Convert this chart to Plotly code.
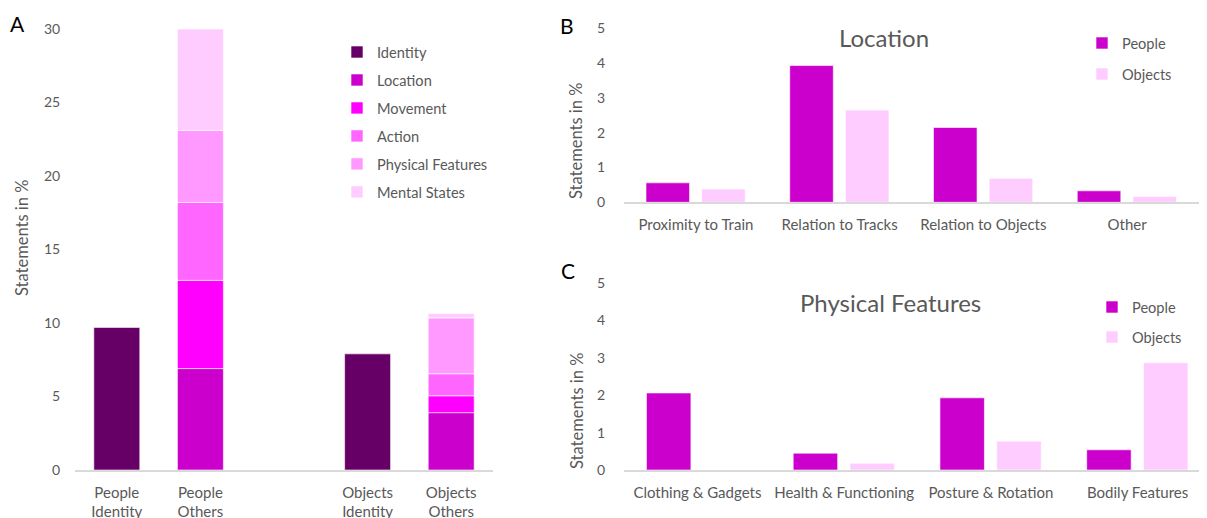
import plotly.graph_objects as go
import numpy as np

# ---------------- data ----------------
a_categories = ["People<br>Identity", "People<br>Others", " ", "Objects<br>Identity", "Objects<br>Others"]
a_series_names = ["Identity", "Location", "Movement", "Action", "Physical Features", "Mental States"]
identity = [9.7, None, None, 7.9, None]
location = [None, 6.9, None, None, 3.9]
movement = [None, 6.0, None, None, 1.15]
action = [None, 5.3, None, None, 1.5]
physical = [None, 4.9, None, None, 3.8]
mental = [None, 6.9, None, None, 0.3]

b_categories = ["Proximity to Train", "Relation to Tracks", "Relation to Objects", "Other"]
b_people = [0.56, 3.93, 2.15, 0.33]
b_objects = [0.38, 2.65, 0.69, 0.17]

c_categories = ["Clothing & Gadgets", "Health & Functioning", "Posture & Rotation", "Bodily Features"]
c_people = [2.06, 0.45, 1.93, 0.54]
c_objects = [0.0, 0.18, 0.77, 2.87]

# ---------------- styles ----------------
a_colors = ["#660066", "#CC00CC", "#FF00FF", "#FF66FF", "#FF99FF", "#FFCCFF"]
people_color = "#CC00CC"
objects_color = "#FFCCFF"
FONT = "Lato, Carlito, Calibri, sans-serif"
GREY = "#595959"
W, H = 1207, 518
OX, OY = 8, 8   # page (body) offset of the figure in the browser

fig = go.Figure()

# Panel A: stacked bars (bases computed from the series)
a_series = [identity, location, movement, action, physical, mental]
cum = np.zeros(len(a_categories))
for name, vals, col in zip(a_series_names, a_series, a_colors):
    arr = np.array([0.0 if v is None else v for v in vals])
    fig.add_trace(go.Bar(
        x=a_categories, y=vals, base=cum.copy(), name=name,
        marker=dict(color=col, line=dict(color="white", width=0.6)),
        width=0.55, xaxis="x", yaxis="y", legend="legend", legendgroup="a" + name,
        hoverinfo="skip"))
    cum = cum + arr

BW, OFF_P, OFF_O = 0.303, -0.347, 0.040
# Panel B
fig.add_trace(go.Bar(x=b_categories, y=b_people, name="People", width=BW, offset=OFF_P,
                     marker=dict(color=people_color, line=dict(color="white", width=0.6)),
                     xaxis="x2", yaxis="y2", legend="legend2", legendgroup="bP", hoverinfo="skip"))
fig.add_trace(go.Bar(x=b_categories, y=b_objects, name="Objects", width=BW, offset=OFF_O,
                     marker=dict(color=objects_color, line=dict(color="white", width=0.6)),
                     xaxis="x2", yaxis="y2", legend="legend2", legendgroup="bO", hoverinfo="skip"))
# Panel C
fig.add_trace(go.Bar(x=c_categories, y=c_people, name="People", width=BW, offset=OFF_P,
                     marker=dict(color=people_color, line=dict(color="white", width=0.6)),
                     xaxis="x3", yaxis="y3", legend="legend3", legendgroup="cP", hoverinfo="skip"))
fig.add_trace(go.Bar(x=c_categories, y=c_objects, name="Objects", width=BW, offset=OFF_O,
                     marker=dict(color=objects_color, line=dict(color="white", width=0.6)),
                     xaxis="x3", yaxis="y3", legend="legend3", legendgroup="cO", hoverinfo="skip"))


def px_x(p):
    return (p - OX) / W


def px_y(p):
    return (H - (p - OY)) / H


xcommon = dict(type="category", showline=True, linecolor="#D9D9D9", linewidth=1.5,
               ticks="outside", ticklen=8, tickcolor="rgba(0,0,0,0)",
               tickfont=dict(size=15, color=GREY, family=FONT),
               showgrid=False, zeroline=False, fixedrange=True, automargin=False)
ycommon = dict(showline=False, showgrid=False, zeroline=False,
               ticks="outside", tickcolor="rgba(0,0,0,0)",
               tickfont=dict(size=14, color=GREY, family=FONT), fixedrange=True, automargin=False)

legend_common = dict(xanchor="left", yanchor="top", bgcolor="rgba(0,0,0,0)",
                     font=dict(size=14.6, color=GREY, family=FONT), traceorder="grouped")

fig.update_layout(
    width=W, height=H, margin=dict(l=0, r=0, t=0, b=0, autoexpand=False),
    paper_bgcolor="white", plot_bgcolor="white",
    barmode="overlay",
    font=dict(family=FONT, color=GREY),
    xaxis=dict(xcommon, domain=[px_x(75), px_x(493)], anchor="y",
               categoryorder="array", categoryarray=a_categories, range=[-0.5, 4.5]),
    yaxis=dict(ycommon, domain=[px_y(470), px_y(29)], anchor="x", range=[0, 30], dtick=5, ticklen=11),
    xaxis2=dict(xcommon, domain=[px_x(624), px_x(1199)], anchor="y2",
                categoryorder="array", categoryarray=b_categories, range=[-0.5, 3.5]),
    yaxis2=dict(ycommon, domain=[px_y(202.3), px_y(28.3)], anchor="x2", range=[0, 5], dtick=1, ticklen=15),
    xaxis3=dict(xcommon, domain=[px_x(624), px_x(1211)], anchor="y3",
                categoryorder="array", categoryarray=c_categories, range=[-0.5, 3.5]),
    yaxis3=dict(ycommon, domain=[px_y(470), px_y(283)], anchor="x3", range=[0, 5], dtick=1, ticklen=15),
    legend=dict(legend_common, x=px_x(377 - 40), y=px_y(52 - 16), tracegroupgap=6),
    legend2=dict(legend_common, x=px_x(1122 - 40), y=px_y(43 - 16), tracegroupgap=9),
    legend3=dict(legend_common, x=px_x(1132 - 40), y=px_y(307 - 16), tracegroupgap=8),
    showlegend=True,
)

annos = [
    dict(text="A", x=px_x(17), y=px_y(23), font=dict(size=21, color="black", family=FONT)),
    dict(text="B", x=px_x(567), y=px_y(25), font=dict(size=21, color="black", family=FONT)),
    dict(text="C", x=px_x(568), y=px_y(270), font=dict(size=21, color="black", family=FONT)),
    dict(text="Location", x=px_x(884), y=px_y(38), font=dict(size=24, color=GREY, family=FONT)),
    dict(text="Physical Features", x=px_x(890), y=px_y(302), font=dict(size=24, color=GREY, family=FONT)),
    dict(text="Statements in %", x=px_x(22), y=px_y(238), textangle=-90, font=dict(size=16.5, color=GREY, family=FONT)),
    dict(text="Statements in %", x=px_x(576), y=px_y(141), textangle=-90, font=dict(size=16.5, color=GREY, family=FONT)),
    dict(text="Statements in %", x=px_x(577), y=px_y(411), textangle=-90, font=dict(size=16.5, color=GREY, family=FONT)),
]
for a in annos:
    a.update(xref="paper", yref="paper", showarrow=False, xanchor="center", yanchor="middle")
fig.update_layout(annotations=annos)

fig.write_html("out.html")
